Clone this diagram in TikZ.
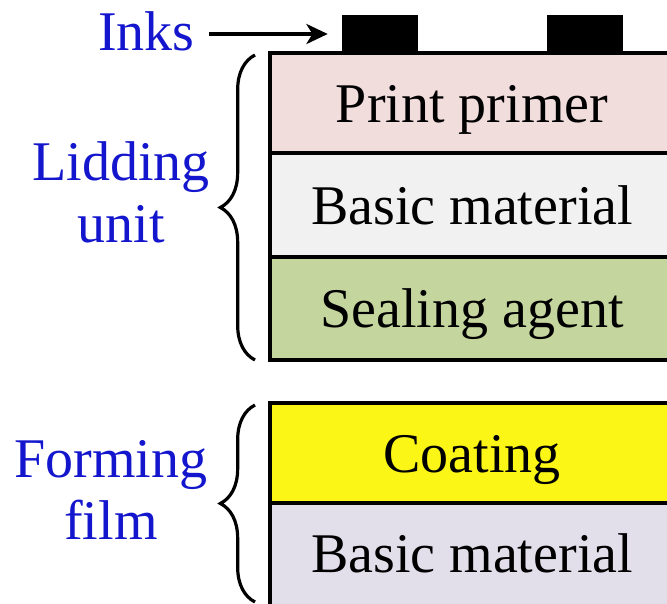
\documentclass[tikz,border=0pt]{standalone}
\usepackage{fontspec}
\setmainfont{Liberation Serif}
\usetikzlibrary{arrows.meta,decorations.pathreplacing}
\definecolor{labelblue}{RGB}{20,22,205}
\definecolor{primerpink}{RGB}{242,221,221}
\definecolor{basicgray}{RGB}{241,241,241}
\definecolor{sealgreen}{RGB}{196,213,158}
\definecolor{coatyellow}{RGB}{251,246,22}
\definecolor{filmlilac}{RGB}{226,223,234}
\begin{document}
\begin{tikzpicture}[x=0.75pt,y=0.75pt,yscale=-1,xscale=1,
  layer/.style={draw=black,line width=2.4pt},
  laytext/.style={font=\fontsize{42}{46}\selectfont,inner sep=0.75pt,anchor=base},
  bluetext/.style={font=\fontsize{42}{46.5}\selectfont,text=labelblue,align=center,inner sep=0.75pt},
  inkblock/.style={fill=black,minimum width=57pt,minimum height=28.5pt,inner sep=0pt},
  inkarrow/.style={line width=2.6pt,-{Stealth[length=16pt,width=15pt,inset=4.5pt]}},
  unitbrace/.style={decorate,decoration={brace,amplitude=26pt},line width=2.4pt}]
\useasboundingbox (0,0) rectangle (667,603);
\clip (0,0) rectangle (667,603);

%Shape: Rectangle [lidding unit]
\draw [layer,fill=primerpink] (270,53) rectangle (672,153) ;
\draw [layer,fill=basicgray] (270,153) rectangle (672,257) ;
\draw [layer,fill=sealgreen] (270,257) rectangle (672,360) ;
%Shape: Rectangle [forming film]
\draw [layer,fill=coatyellow] (270,403) rectangle (672,503) ;
\draw [layer,fill=filmlilac] (270,503) rectangle (672,610) ;

%Shape: Inks
\node (ink1) [inkblock] at (380,34) {};
\node (ink2) [inkblock] at (585,34) {};

% Text Node
\node (primer) [laytext] at (472,122) {Print primer};
% Text Node
\node (basic) [laytext] at (472,224) {Basic material};
% Text Node
\node (sealing) [laytext] at (472,327) {Sealing agent};
% Text Node
\node (coating) [laytext] at (472,472) {Coating};
% Text Node
\node (basicfilm) [laytext] at (472,572) {Basic material};

% Text Node
\node (inks) [bluetext,anchor=base east] at (196,50) {Inks};
% Text Node
\node (lidding) [bluetext] at (121,192) {Lidding\\unit};
% Text Node
\node (forming) [bluetext] at (111,490) {Forming\\film};

%Straight Lines
\draw [inkarrow,shorten <=10pt,shorten >=10.5pt] (inks.east |- ink1.west) -- (ink1.west) ;

%Braces
\draw [unitbrace] (255,360) -- (255,55) ;
\draw [unitbrace] (255,602) -- (255,405) ;

\end{tikzpicture}
\end{document}
